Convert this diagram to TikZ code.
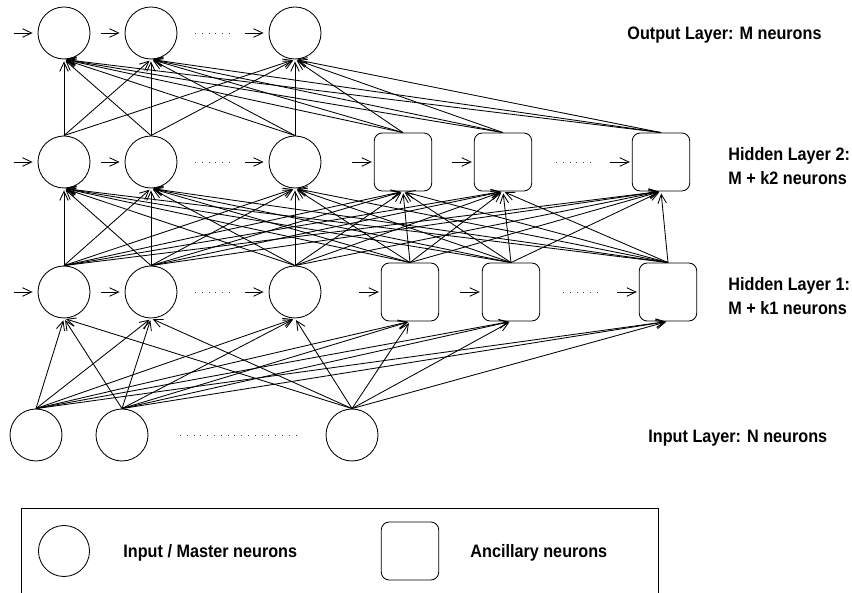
\documentclass[tikz,border=0pt]{standalone}
\usepackage{fontspec}
\setmainfont{Liberation Sans}
\newfontfamily\labfont[FakeStretch=0.9]{Liberation Sans}
\usetikzlibrary{arrows.meta}
\begin{document}
\begin{tikzpicture}[x=1pt,y=-1pt,line width=0.85pt,
  neuron/.style={circle,draw,minimum size=52pt,inner sep=0pt},
  anc/.style={rectangle,rounded corners=8pt,draw,minimum width=57.5pt,minimum height=58pt,inner sep=0pt},
  conn/.style={-{Straight Barb[length=9pt,width=8.5pt]},shorten >=2pt},
  inarr/.style={-{Straight Barb[length=9pt,width=8.5pt]}},
  dotsl/.style={line width=0.9pt,dash pattern=on 0.9pt off 5.9pt,black!75},
  lab/.style={anchor=base west,inner sep=0pt,font=\labfont\bfseries\fontsize{18}{22}\selectfont}]
\useasboundingbox (0,0) rectangle (852,593);

% Output layer
\node[neuron] (o1) at (64,33) {};
\node[neuron] (o2) at (151,33) {};
\node[neuron] (o3) at (295,33) {};
% Hidden layer 2
\node[neuron] (h2a) at (64,162) {};
\node[neuron] (h2b) at (151,162) {};
\node[neuron] (h2c) at (295,162) {};
\node[anc] (h2d) at (403,162) {};
\node[anc] (h2e) at (503,162) {};
\node[anc] (h2f) at (661,162) {};
% Hidden layer 1
\node[neuron] (h1a) at (64,292) {};
\node[neuron] (h1b) at (151,292) {};
\node[neuron] (h1c) at (295,292) {};
\node[anc] (h1d) at (410,292) {};
\node[anc] (h1e) at (511,292) {};
\node[anc] (h1f) at (668,292) {};
% Input layer
\node[neuron] (i1) at (36,435) {};
\node[neuron] (i2) at (122,435) {};
\node[neuron] (i3) at (352,435) {};

% connections
\foreach \s in {i1,i2,i3}
  \foreach \t in {h1a,h1b,h1c,h1d,h1e,h1f}
    \draw[conn] (\s.north) -- (\t.south);
\foreach \s in {h1a,h1b,h1c,h1d,h1e,h1f}
  \foreach \t in {h2a,h2b,h2c,h2d,h2e,h2f}
    \draw[conn] (\s.north) -- (\t.south);
\foreach \s in {h2a,h2b,h2c,h2d,h2e,h2f}
  \foreach \t in {o1,o2,o3}
    \draw[conn] (\s.north) -- (\t.south);

% lateral input arrows
\foreach \n in {o1,o2,o3,h2a,h2b,h2c,h1a,h1b,h1c}
  \draw[inarr] ([xshift=-24pt]\n.west) -- ([xshift=-5pt]\n.west);
\foreach \n in {h2d,h2e,h2f,h1d,h1e,h1f}
  \draw[inarr] ([xshift=-22pt]\n.west) -- ([xshift=-2pt]\n.west);

% dots
\coordinate (d1a) at (195,33);  \coordinate (d1b) at (230,33);
\coordinate (d2a) at (195,162); \coordinate (d2b) at (230,162);
\coordinate (d3a) at (556,162); \coordinate (d3b) at (591,162);
\coordinate (d4a) at (195,292); \coordinate (d4b) at (230,292);
\coordinate (d5a) at (563,292); \coordinate (d5b) at (598,292);
\coordinate (d6a) at (180,435); \coordinate (d6b) at (296,435);
\foreach \k in {1,...,6} \draw[dotsl] (d\k a) -- (d\k b);

% labels
\node[lab] (lo) at (627,40) {Output Layer: M neurons};
\node[lab] (l2a) at (728,161) {Hidden Layer 2:};
\node[lab] (l2b) at (728,185) {M + k2 neurons};
\node[lab] (l1a) at (728,291) {Hidden Layer 1:};
\node[lab] (l1b) at (728,315) {M + k1 neurons};
\node[lab] (li) at (648,443) {Input Layer: N neurons};

% legend
\coordinate (bl) at (21,594);
\coordinate (br) at (658,594);
\draw (bl) -- (21,508) -- (658,508) -- (br);
\node[circle,draw,minimum size=51pt,inner sep=0pt] (lc) at (64,551) {};
\node[anc] (ls) at (410,551) {};
\node[lab] (lt1) at (123,558) {Input / Master neurons};
\node[lab] (lt2) at (470,558) {Ancillary neurons};
\end{tikzpicture}
\end{document}
